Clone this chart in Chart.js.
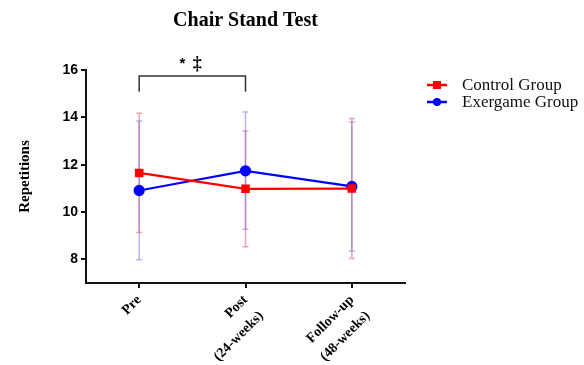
<!DOCTYPE html>
<html>
<head>
<meta charset="utf-8">
<script src="https://cdn.jsdelivr.net/npm/chart.js@4/dist/chart.umd.min.js"></script>
<style>
html,body{margin:0;padding:0;background:#fff;}
#wrap{width:584px;height:365px;position:relative;}
</style>
</head>
<body>
<div id="wrap"><canvas id="c" width="584" height="365"></canvas></div>
<script>
const chartTitle = "Chair Stand Test";
const yTitle = "Repetitions";
const categories = [["Pre"], ["Post", "(24-weeks)"], ["Follow-up", "(48-weeks)"]];
const seriesNames = ["Control Group", "Exergame Group"];
const controlMean = [11.65, 10.98, 10.99];
const controlLow = [9.13, 8.53, 8.03];
const controlHigh = [14.17, 13.42, 13.95];
const exergameMean = [10.91, 11.74, 11.08];
const exergameLow = [7.98, 9.27, 8.35];
const exergameHigh = [13.85, 14.23, 13.80];
const yTicks = [8, 10, 12, 14, 16];
const sigMarks = ["*", "\u2021"];
const sigFrom = 0, sigTo = 1, sigTop = 15.75, sigBottom = 15.08;

const serif = "'Liberation Serif', 'Times New Roman', serif";
const sans = "'Liberation Sans', Arial, sans-serif";

const errorBars = {
  id: 'errorBars',
  beforeDatasetsDraw(chart) {
    const ctx = chart.ctx, xs = chart.scales.x, ys = chart.scales.y;
    const sets = [
      {low: controlLow, high: controlHigh, color: 'rgba(238,90,100,0.55)'},
      {low: exergameLow, high: exergameHigh, color: 'rgba(110,110,235,0.5)'}
    ];
    ctx.save();
    ctx.lineWidth = 1.5;
    sets.forEach(s => {
      ctx.strokeStyle = s.color;
      s.low.forEach((lo, i) => {
        const x = xs.getPixelForValue(i);
        const y1 = ys.getPixelForValue(lo), y2 = ys.getPixelForValue(s.high[i]);
        ctx.beginPath();
        ctx.moveTo(x, y1); ctx.lineTo(x, y2);
        ctx.moveTo(x - 3, y1); ctx.lineTo(x + 3, y1);
        ctx.moveTo(x - 3, y2); ctx.lineTo(x + 3, y2);
        ctx.stroke();
      });
    });
    ctx.restore();
  },
  afterDraw(chart) {
    const ctx = chart.ctx, xs = chart.scales.x, ys = chart.scales.y, ca = chart.chartArea;
    ctx.save();
    // title
    ctx.fillStyle = '#000';
    ctx.font = "bold 20px " + serif;
    ctx.textAlign = 'center';
    ctx.textBaseline = 'middle';
    ctx.fillText(chartTitle, (ca.left + ca.right) / 2, 21);
    // significance bracket
    const xa = xs.getPixelForValue(sigFrom), xb = xs.getPixelForValue(sigTo);
    const yt = ys.getPixelForValue(sigTop), yb = ys.getPixelForValue(sigBottom);
    ctx.strokeStyle = '#333';
    ctx.lineWidth = 1.5;
    ctx.beginPath();
    ctx.moveTo(xa, yb); ctx.lineTo(xa, yt); ctx.lineTo(xb, yt); ctx.lineTo(xb, yb);
    ctx.stroke();
    const xm = (xa + xb) / 2;
    ctx.fillStyle = '#000';
    ctx.textBaseline = 'alphabetic';
    ctx.font = "bold 15px " + sans;
    ctx.fillText(sigMarks[0], xm - 10, yt - 8);
    ctx.font = "bold 18px " + serif;
    ctx.fillText(sigMarks[1], xm + 5, yt - 7);
    // legend
    const items = [
      {label: seriesNames[0], color: '#ff0000', style: 'rect'},
      {label: seriesNames[1], color: '#0000ff', style: 'circle'}
    ];
    items.forEach((it, k) => {
      const y = 85 + k * 17;
      const x0 = ca.right + 22;
      ctx.strokeStyle = it.color;
      ctx.fillStyle = it.color;
      ctx.lineWidth = 2.5;
      ctx.beginPath(); ctx.moveTo(x0, y); ctx.lineTo(x0 + 20, y); ctx.stroke();
      ctx.beginPath();
      if (it.style === 'rect') ctx.rect(x0 + 6, y - 4, 8, 8);
      else ctx.arc(x0 + 10, y, 4, 0, Math.PI * 2);
      ctx.fill();
      ctx.fillStyle = '#111';
      ctx.font = "17px " + serif;
      ctx.textAlign = 'left';
      ctx.textBaseline = 'middle';
      ctx.fillText(it.label, x0 + 35, y + 1);
    });
    ctx.restore();
  }
};

new Chart(document.getElementById('c'), {
  type: 'line',
  data: {
    labels: categories,
    datasets: [
      {
        label: seriesNames[0], data: controlMean,
        borderColor: '#ff0000', backgroundColor: '#ff0000',
        borderWidth: 2.2, pointStyle: 'rect', pointRadius: 4.5, pointHoverRadius: 4.5,
        tension: 0, fill: false
      },
      {
        label: seriesNames[1], data: exergameMean,
        borderColor: '#0000ff', backgroundColor: '#0000ff',
        borderWidth: 2.2, pointStyle: 'circle', pointRadius: 4.5, pointHoverRadius: 4.5,
        tension: 0, fill: false
      }
    ]
  },
  options: {
    responsive: false,
    animation: false,
    events: [],
    layout: {padding: {left: 0, top: 70, right: 179, bottom: 0}},
    plugins: {legend: {display: false}, title: {display: false}, tooltip: {enabled: false}},
    scales: {
      x: {
        type: 'category',
        offset: true,
        grid: {display: true, drawOnChartArea: false, drawTicks: true, tickLength: 5, color: '#111', lineWidth: 2, offset: false},
        border: {display: true, color: '#111', width: 2},
        ticks: {
          color: '#000', maxRotation: 45, minRotation: 45, autoSkip: false, padding: 2,
          font: {family: serif, size: 14, weight: 'bold', lineHeight: 1.6}
        },
        afterFit(scale) { scale.height = 82; }
      },
      y: {
        min: 7, max: 16,
        afterBuildTicks(scale) { scale.ticks = yTicks.map(v => ({value: v})); },
        grid: {display: true, drawOnChartArea: false, drawTicks: true, tickLength: 5, color: '#111', lineWidth: 2},
        border: {display: true, color: '#111', width: 2},
        ticks: {color: '#000', padding: 3, font: {family: sans, size: 14, weight: 'bold'}},
        title: {display: true, text: yTitle, color: '#000', padding: {top: 16, bottom: 0}, font: {family: serif, size: 15, weight: 'bold'}},
        afterFit(scale) { scale.width = 86; }
      }
    }
  },
  plugins: [errorBars]
});
</script>
</body>
</html>
